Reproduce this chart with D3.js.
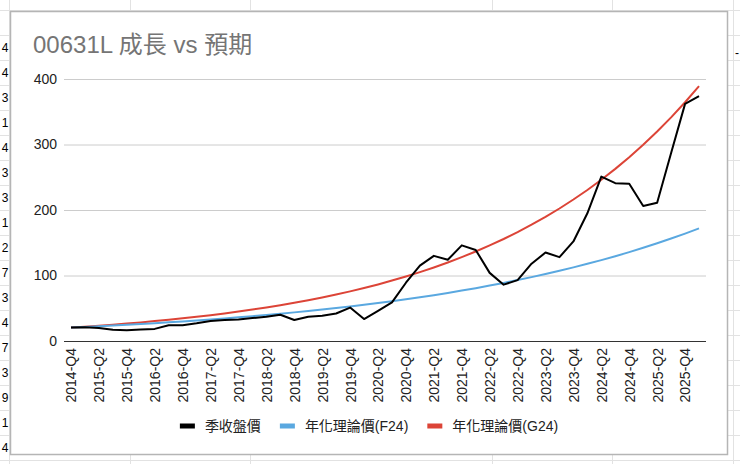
<!DOCTYPE html>
<html>
<head>
<meta charset="utf-8">
<script src="https://cdn.jsdelivr.net/npm/d3@7"></script>
<style>
  html, body { margin: 0; padding: 0; background: #fff; }
  svg { display: block; font-family: "Liberation Sans", Arial, "Noto Sans CJK TC", sans-serif; }
</style>
</head>
<body>
<svg id="chart" width="740" height="464"></svg>
<script>
// quarters shown on the x axis (every other one gets a label)
const quarters = [
  "2014-Q4",
  "2015-Q1", "2015-Q2", "2015-Q3", "2015-Q4",
  "2016-Q1", "2016-Q2", "2016-Q3", "2016-Q4",
  "2017-Q1", "2017-Q2", "2017-Q3", "2017-Q4",
  "2018-Q1", "2018-Q2", "2018-Q3", "2018-Q4",
  "2019-Q1", "2019-Q2", "2019-Q3", "2019-Q4",
  "2020-Q1", "2020-Q2", "2020-Q3", "2020-Q4",
  "2021-Q1", "2021-Q2", "2021-Q3", "2021-Q4",
  "2022-Q1", "2022-Q2", "2022-Q3", "2022-Q4",
  "2023-Q1", "2023-Q2", "2023-Q3", "2023-Q4",
  "2024-Q1", "2024-Q2", "2024-Q3", "2024-Q4",
  "2025-Q1", "2025-Q2", "2025-Q3", "2025-Q4",
  "2026-Q1"
];

// 季收盤價
const closePrice = [
  20.5, 21, 20, 17, 16.5, 17.5, 18.5, 24, 24, 27, 30.5, 32, 33, 35, 37, 40,
  32, 37, 38.5, 42, 51, 33.5, 46, 59, 89, 115, 130, 124, 146, 139, 104, 86,
  93, 118, 135, 128, 152, 195, 251, 241, 240, 206, 211, 287, 362, 374
];

// 年化理論價(F24)
const theoryF24 = [
  20.5, 21.5, 22.5, 23.6, 24.8, 26.0, 27.2, 28.5, 29.9, 31.4, 32.9, 34.5,
  36.1, 37.9, 39.7, 41.6, 43.7, 45.8, 48.0, 50.3, 52.7, 55.3, 58.0, 60.8,
  63.7, 66.8, 70.0, 73.4, 77.0, 80.7, 84.6, 88.7, 93.0, 97.5, 102.2, 107.2,
  112.4, 117.8, 123.5, 129.5, 135.7, 142.3, 149.2, 156.4, 164.0, 171.9
];

// 年化理論價(G24)
const theoryG24 = [
  20.5, 21.9, 23.4, 24.9, 26.6, 28.4, 30.4, 32.4, 34.6, 36.9, 39.4, 42.1,
  44.9, 48.0, 51.2, 54.7, 58.4, 62.3, 66.5, 71.0, 75.8, 81.0, 86.4, 92.3,
  98.5, 105.2, 112.3, 119.9, 128.0, 136.6, 145.9, 155.7, 166.3, 177.5, 189.5, 202.3,
  216.0, 230.6, 246.2, 262.8, 280.6, 299.5, 319.8, 341.4, 364.5, 389.1
];

const yTicks = [0, 100, 200, 300, 400];

const seriesNames = ["季收盤價", "年化理論價(F24)", "年化理論價(G24)"];

// spreadsheet cells peeking out left of the chart
const leftCells = ["4", "4", "3", "1", "4", "3", "3", "1", "2", "7", "3", "4", "7", "3", "9", "1", "4"];

const colors = {
  close: "#000000",
  f24: "#5aa8e0",
  g24: "#dc4437",
  grid: "#cccccc",
  axis: "#333333",
  title: "#757575",
  text: "#222222",
  sheet: "#e2e2e2",
  frame: "#b5b5b5"
};

const width = 740;
const height = 464;
const svg = d3.select("#chart");

// ---- spreadsheet background ----
const sheet = svg.append("g");
d3.range(-1, 18).forEach(k => {
  const y = 35.5 + 25 * k;
  sheet.append("line").attr("x1", 0).attr("x2", width).attr("y1", y).attr("y2", y)
    .attr("stroke", colors.sheet);
});
[9.5, 130.5, 250.5, 492.5, 612.5, 733.5].forEach(x => {
  sheet.append("line").attr("x1", x).attr("x2", x).attr("y1", 0).attr("y2", height)
    .attr("stroke", colors.sheet);
});
sheet.selectAll("text.cell")
  .data(leftCells)
  .enter().append("text")
  .attr("class", "cell")
  .attr("x", 8.5)
  .attr("y", (d, i) => 47.5 + 25 * i)
  .attr("dy", "0.35em")
  .attr("text-anchor", "end")
  .attr("font-size", 12)
  .attr("fill", "#000")
  .text(d => d);
sheet.append("text").attr("x", 735).attr("y", 53).attr("dy", "0.35em")
  .attr("font-size", 12).text("-");

// ---- chart frame ----
svg.append("rect")
  .attr("x", 10.5).attr("y", 11.5)
  .attr("width", 717).attr("height", 443)
  .attr("fill", "#fff")
  .attr("stroke", colors.frame)
  .attr("stroke-width", 1.5);

// ---- title ----
svg.append("text")
  .attr("x", 33).attr("y", 53)
  .attr("font-size", 24)
  .attr("fill", colors.title)
  .text("00631L 成長 vs 預期");

// ---- scales ----
const x = d3.scalePoint()
  .domain(quarters)
  .range([64, 706])
  .padding(0.5);

const y = d3.scaleLinear()
  .domain([0, 400])
  .range([341, 79]);

// gridlines + y labels
const yAxis = d3.axisLeft(y)
  .tickValues(yTicks)
  .tickSize(-(706 - 64))
  .tickPadding(7);

const yG = svg.append("g")
  .attr("transform", "translate(64,0)")
  .call(yAxis);
yG.select(".domain").remove();
yG.selectAll(".tick line").attr("stroke", colors.grid);
yG.selectAll(".tick text")
  .attr("font-size", 14)
  .attr("font-family", "Liberation Sans, Arial, sans-serif")
  .attr("fill", colors.text);

// baseline
svg.append("line")
  .attr("x1", 64).attr("x2", 706)
  .attr("y1", y(0) + 0.5).attr("y2", y(0) + 0.5)
  .attr("stroke", colors.axis);

// x labels
const xAxis = d3.axisBottom(x)
  .tickValues(quarters.filter((d, i) => i % 2 === 0))
  .tickSize(0)
  .tickPadding(0);

const xG = svg.append("g")
  .attr("transform", `translate(0,${y(0)})`)
  .call(xAxis);
xG.select(".domain").remove();
xG.selectAll(".tick text")
  .attr("font-size", 14)
  .attr("font-family", "Liberation Sans, Arial, sans-serif")
  .attr("fill", colors.text)
  .attr("text-anchor", "end")
  .attr("transform", "rotate(-90)")
  .attr("x", -7)
  .attr("y", 0)
  .attr("dy", "0.35em");

// ---- lines ----
const line = d3.line()
  .x((d, i) => x(quarters[i]))
  .y(d => y(d));

const series = [
  { values: closePrice, color: colors.close },
  { values: theoryF24, color: colors.f24 },
  { values: theoryG24, color: colors.g24 }
];

svg.selectAll("path.series")
  .data(series.slice().reverse())
  .enter().append("path")
  .attr("class", "series")
  .attr("d", d => line(d.values))
  .attr("fill", "none")
  .attr("stroke", d => d.color)
  .attr("stroke-width", 2)
  .attr("stroke-linejoin", "round");

// ---- legend ----
const legend = svg.append("g");
const swatchW = 15;
const swatchGap = 10;
const itemGap = 19;
let cursor = 0;
seriesNames.forEach((name, i) => {
  const g = legend.append("g");
  g.append("rect")
    .attr("x", 0).attr("y", -2.5)
    .attr("width", swatchW).attr("height", 5)
    .attr("fill", series[i].color);
  const t = g.append("text")
    .attr("x", swatchW + swatchGap)
    .attr("dy", "0.35em")
    .attr("font-size", 14)
    .attr("fill", colors.text)
    .text(name);
  const w = swatchW + swatchGap + t.node().getComputedTextLength();
  g.attr("transform", `translate(${cursor},0)`);
  cursor += w + itemGap;
});
const legendWidth = cursor - itemGap;
legend.attr("transform", `translate(${369 - legendWidth / 2},426)`);
</script>
</body>
</html>
